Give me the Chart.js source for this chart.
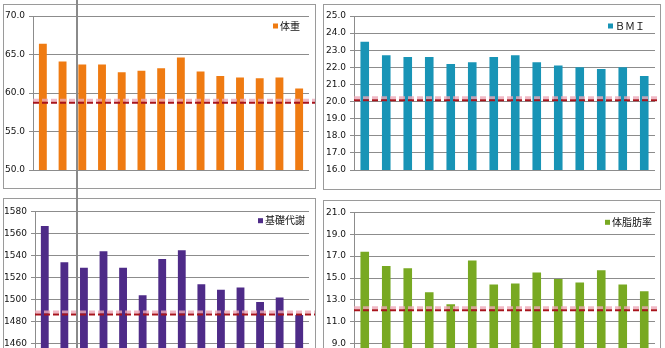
<!DOCTYPE html>
<html>
<head>
<meta charset="utf-8">
<script src="https://cdn.jsdelivr.net/npm/chart.js@4"></script>
<style>
  html, body { margin: 0; padding: 0; background: #fff; width: 665px; height: 348px; overflow: hidden; }
  .panel { position: absolute; border: 1px solid #9a9a9a; box-sizing: border-box; background: #fff; }
  .panel canvas { position: absolute; left: 0; top: 0; }
  #marker { position: absolute; left: 76px; top: 0; width: 2px; height: 348px; background: #8a8a8a; }
</style>
</head>
<body>
<div class="panel" style="left:3px;top:4px;width:313px;height:185px"><canvas id="cWeight" width="311" height="183"></canvas></div>
<div class="panel" style="left:323px;top:4px;width:338px;height:186px"><canvas id="cBmi" width="336" height="184"></canvas></div>
<div class="panel" style="left:3px;top:198px;width:313px;height:185px"><canvas id="cBmr" width="311" height="183"></canvas></div>
<div class="panel" style="left:323px;top:200px;width:338px;height:186px"><canvas id="cFat" width="336" height="184"></canvas></div>
<div id="marker"></div>
<script>
// measurement sessions (not labelled on the axis)
const sessions = ['1','2','3','4','5','6','7','8','9','10','11','12','13','14'];

// 体重 (kg)
const weight = [66.4, 64.1, 63.7, 63.7, 62.7, 62.9, 63.2, 64.6, 62.8, 62.2, 62.0, 61.9, 62.0, 60.6];
// BMI
const bmi = [23.5, 22.7, 22.6, 22.6, 22.2, 22.3, 22.6, 22.7, 22.3, 22.1, 22.0, 21.9, 22.0, 21.5];
// 基礎代謝 (kcal)
const bmr = [1567, 1534, 1529, 1544, 1529, 1504, 1537, 1545, 1514, 1509, 1511, 1498, 1502, 1486];
// 体脂肪率 (%)
const fat = [17.4, 16.1, 15.9, 13.7, 12.6, 16.6, 14.4, 14.5, 15.5, 14.9, 14.6, 15.7, 14.4, 13.8];

// target levels shown as dashed reference lines
const targetWeight = 58.8;
const targetBmi = 20.1;
const targetBmr = 1487;
const targetFat = 12.1;

// horizontal dashed target line, positioned through the y scale
const refLine = {
  id: 'refLine',
  afterDatasetsDraw(chart, args, opts) {
    const y = chart.scales.y.getPixelForValue(opts.value);
    const ctx = chart.ctx;
    const left = chart.chartArea.left;
    const right = chart.width;
    ctx.save();
    ctx.setLineDash([6, 3]);
    ctx.strokeStyle = 'rgba(236,168,184,0.8)';
    ctx.lineWidth = 3;
    ctx.beginPath(); ctx.moveTo(left, y - 2); ctx.lineTo(right, y - 2); ctx.stroke();
    ctx.strokeStyle = '#a8141c';
    ctx.lineWidth = 2;
    ctx.beginPath(); ctx.moveTo(left, y + 0.5); ctx.lineTo(right, y + 0.5); ctx.stroke();
    ctx.restore();
  }
};

// series key in the upper right corner of the plot area
const cornerKey = {
  id: 'cornerKey',
  afterDraw(chart, args, opts) {
    const ds = chart.data.datasets[0];
    const ctx = chart.ctx;
    const area = chart.chartArea;
    ctx.save();
    ctx.font = '10px "Noto Sans CJK JP", "DejaVu Sans", sans-serif';
    ctx.textBaseline = 'middle';
    ctx.textAlign = 'right';
    const textRight = area.right - opts.rightGap;
    const cy = area.top + opts.offsetY;
    const w = ctx.measureText(ds.label).width;
    ctx.fillStyle = '#111';
    ctx.fillText(ds.label, textRight, cy);
    ctx.fillStyle = ds.backgroundColor;
    ctx.fillRect(textRight - w - 7, cy - 2.5, 5, 5);
    ctx.restore();
  }
};

function makeChart(id, label, values, color, cfg) {
  new Chart(document.getElementById(id), {
    type: 'bar',
    data: {
      labels: sessions,
      datasets: [{
        label: label,
        data: values,
        backgroundColor: color,
        borderWidth: 0,
        barPercentage: 0.4,
        categoryPercentage: 1.0
      }]
    },
    plugins: [refLine, cornerKey],
    options: {
      responsive: false,
      animation: false,
      layout: { padding: cfg.padding },
      plugins: {
        refLine: { value: cfg.target },
        cornerKey: cfg.key,
        tooltip: { enabled: false },
        legend: { display: false }
      },
      scales: {
        x: { display: false },
        y: {
          min: cfg.min,
          max: cfg.max,
          afterFit(scale) { scale.width = cfg.axisWidth; },
          border: { display: true, color: '#8c8c8c', width: 1 },
          grid: { color: '#8c8c8c', lineWidth: 1, tickLength: 4, drawTicks: true },
          ticks: {
            stepSize: cfg.step,
            padding: 4,
            color: '#111',
            font: { family: '"DejaVu Sans", sans-serif', size: 9 },
            callback: v => v.toFixed(cfg.decimals)
          }
        }
      }
    }
  });
}

makeChart('cWeight', '体重', weight, '#ef7b12', {
  min: 50, max: 70, step: 5, decimals: 1, axisWidth: 29, target: targetWeight,
  padding: { top: 11, right: 6, bottom: 18, left: 0 },
  key: { rightGap: 9, offsetY: 10 }
});
makeChart('cBmi', 'ＢＭＩ', bmi, '#1894b6', {
  min: 16, max: 25, step: 1, decimals: 1, axisWidth: 30, target: targetBmi,
  padding: { top: 11, right: 5, bottom: 19, left: 0 },
  key: { rightGap: 10, offsetY: 10 }
});
makeChart('cBmr', '基礎代謝', bmr, '#4e2b88', {
  min: 1440, max: 1580, step: 20, decimals: 0, axisWidth: 31, target: targetBmr,
  padding: { top: 12.7, right: 6, bottom: 16.3, left: 0 },
  key: { rightGap: 4, offsetY: 9 }
});
makeChart('cFat', '体脂肪率', fat, '#78a922', {
  min: 7, max: 21, step: 2, decimals: 1, axisWidth: 30, target: targetFat,
  padding: { top: 11.3, right: 5, bottom: 19.4, left: 0 },
  key: { rightGap: 3, offsetY: 10 }
});
</script>
</body>
</html>
